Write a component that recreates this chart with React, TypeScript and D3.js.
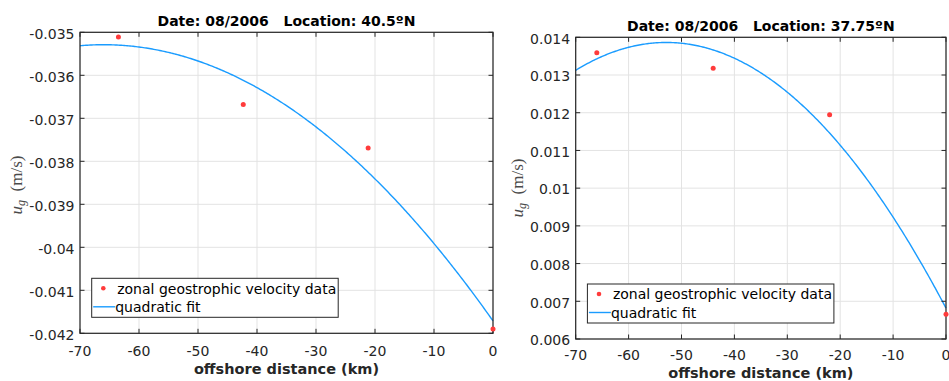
import React from 'react';
import * as d3 from 'd3';

// ---- data ----
const leftDistance = [-63.49, -42.33, -21.16, 0];
const leftVelocity = [-0.03511, -0.03668, -0.03769, -0.0419];
const rightDistance = [-66.01, -44.01, -22.0, 0];
const rightVelocity = [0.013591, 0.013178, 0.011947, 0.006655];

const xTicks = [-70, -60, -50, -40, -30, -20, -10, 0];
const leftYTicks = [-0.042, -0.041, -0.04, -0.039, -0.038, -0.037, -0.036, -0.035];
const rightYTicks = [0.006, 0.007, 0.008, 0.009, 0.01, 0.011, 0.012, 0.013, 0.014];
const leftYDomain = [-0.042, -0.035];
const rightYDomain = [0.006, 0.014];
const xDomain = [-70, 0];

const leftTitle = 'Date: 08/2006   Location: 40.5ºN';
const rightTitle = 'Date: 08/2006   Location: 37.75ºN';
const xLabel = 'offshore distance (km)';
const legendLabels = ['zonal geostrophic velocity data', 'quadratic fit'];

// least-squares quadratic fit of the data (the "quadratic fit" series)
function quadFit(xs: number[], ys: number[]) {
  const S = [0, 0, 0, 0, 0];
  const T = [0, 0, 0];
  xs.forEach((x, i) => {
    for (let k = 0; k < 5; k++) S[k] += Math.pow(x, k);
    for (let k = 0; k < 3; k++) T[k] += ys[i] * Math.pow(x, k);
  });
  const A = [
    [S[0], S[1], S[2]],
    [S[1], S[2], S[3]],
    [S[2], S[3], S[4]],
  ];
  const det = (m: number[][]) =>
    m[0][0] * (m[1][1] * m[2][2] - m[1][2] * m[2][1]) -
    m[0][1] * (m[1][0] * m[2][2] - m[1][2] * m[2][0]) +
    m[0][2] * (m[1][0] * m[2][1] - m[1][1] * m[2][0]);
  const D = det(A);
  const coef = [0, 1, 2].map((c) => {
    const M = A.map((row, r) => row.map((v, j) => (j === c ? T[r] : v)));
    return det(M) / D;
  });
  return (x: number) => coef[0] + coef[1] * x + coef[2] * x * x;
}

const FONT = "'DejaVu Sans', sans-serif";
const AXIS = '#262626';
const GRID = '#e3e3e3';
const LINE = '#1a9cff';
const DOT = '#ff3b3b';

type PanelProps = {
  x0: number; x1: number; y0: number; y1: number;
  yDomain: number[]; yTicks: number[];
  xs: number[]; ys: number[];
  title: string; titleY: number;
  xTickY: number; xLabelY: number;
  yLabelX: number; yLabelY: number;
};

function Panel(p: PanelProps) {
  const x = d3.scaleLinear().domain(xDomain).range([p.x0, p.x1]);
  const y = d3.scaleLinear().domain(p.yDomain).range([p.y1, p.y0]);
  const fit = quadFit(p.xs, p.ys);
  const samples = d3.range(xDomain[0], xDomain[1] + 0.001, 0.25);
  const line = d3
    .line<number>()
    .x((d) => x(d))
    .y((d) => y(fit(d)));
  const fmt = (v: number) => String(+v.toFixed(3));
  const tl = 4.5;
  const lx = p.x0 + 11.7;
  const lw = 246.5;
  const lh = 39;
  const ly = p.y1 - 16 - lh;
  return (
    <g>
      {/* grid */}
      {xTicks.map((t) => (
        <line key={'gx' + t} x1={x(t)} x2={x(t)} y1={p.y0} y2={p.y1} stroke={GRID} strokeWidth={1} />
      ))}
      {p.yTicks.map((t) => (
        <line key={'gy' + t} x1={p.x0} x2={p.x1} y1={y(t)} y2={y(t)} stroke={GRID} strokeWidth={1} />
      ))}
      {/* fit curve */}
      <path d={line(samples) || ''} fill="none" stroke={LINE} strokeWidth={1.4} />
      {/* box */}
      <rect x={p.x0} y={p.y0} width={p.x1 - p.x0} height={p.y1 - p.y0} fill="none" stroke={AXIS} strokeWidth={1.2} />
      {/* ticks */}
      {xTicks.map((t) => (
        <g key={'tx' + t}>
          <line x1={x(t)} x2={x(t)} y1={p.y1} y2={p.y1 - tl} stroke={AXIS} strokeWidth={1} />
          <line x1={x(t)} x2={x(t)} y1={p.y0} y2={p.y0 + tl} stroke={AXIS} strokeWidth={1} />
          <text x={x(t)} y={p.xTickY} textAnchor="middle" fontFamily={FONT} fontSize={14} fill={AXIS}>
            {String(t)}
          </text>
        </g>
      ))}
      {p.yTicks.map((t) => (
        <g key={'ty' + t}>
          <line x1={p.x0} x2={p.x0 + tl} y1={y(t)} y2={y(t)} stroke={AXIS} strokeWidth={1} />
          <line x1={p.x1} x2={p.x1 - tl} y1={y(t)} y2={y(t)} stroke={AXIS} strokeWidth={1} />
          <text x={p.x0 - 5.5} y={y(t) + 6.3} textAnchor="end" fontFamily={FONT} fontSize={14} fill={AXIS}>
            {fmt(t)}
          </text>
        </g>
      ))}
      {/* data points */}
      {p.xs.map((d, i) => (
        <circle key={'pt' + i} cx={x(d)} cy={y(p.ys[i])} r={2.5} fill={DOT} />
      ))}
      {/* title */}
      <text
        x={(p.x0 + p.x1) / 2}
        y={p.titleY}
        textAnchor="middle"
        fontFamily={FONT}
        fontWeight="bold"
        fontSize={14}
        fill="#000"
        style={{ whiteSpace: 'pre' }}
      >
        {p.title}
      </text>
      {/* x label */}
      <text x={(p.x0 + p.x1) / 2} y={p.xLabelY} textAnchor="middle" fontFamily={FONT} fontWeight="bold" fontSize={14.5} fill={AXIS}>
        {xLabel}
      </text>
      {/* y label */}
      <text
        transform={`translate(${p.yLabelX},${p.yLabelY}) rotate(-90)`}
        textAnchor="middle"
        fontFamily="'Liberation Serif', serif"
        fontSize={17}
        fill="#4a4a4a"
      >
        <tspan fontStyle="italic">u</tspan>
        <tspan fontStyle="italic" fontSize={12} dy={3}>g</tspan>
        <tspan dy={-3} style={{ whiteSpace: 'pre' }}>{'  (m/s)'}</tspan>
      </text>
      {/* legend */}
      <rect x={lx} y={ly} width={lw} height={lh} fill="#fff" stroke={AXIS} strokeWidth={1} />
      <circle cx={lx + 11.6} cy={ly + 10} r={2.3} fill={DOT} />
      <text x={lx + 25.5} y={ly + 15.3} fontFamily={FONT} fontSize={14} fill="#000">
        {legendLabels[0]}
      </text>
      <line x1={lx + 1.5} x2={lx + 23.5} y1={ly + 28.5} y2={ly + 28.5} stroke={LINE} strokeWidth={1.4} />
      <text x={lx + 23.5} y={ly + 34} fontFamily={FONT} fontSize={14} fill="#000">
        {legendLabels[1]}
      </text>
    </g>
  );
}

export default function App() {
  return (
    <svg
      width={949}
      height={381}
      viewBox="0 0 949 381"
      style={{ position: 'absolute', left: 0, top: 0, background: '#fff' }}
    >
      <rect x={0} y={0} width={949} height={381} fill="#fff" />
      <Panel
        x0={80} x1={493} y0={32.3} y1={333.3}
        yDomain={leftYDomain} yTicks={leftYTicks}
        xs={leftDistance} ys={leftVelocity}
        title={leftTitle} titleY={25.5}
        xTickY={355.5} xLabelY={374}
        yLabelX={22} yLabelY={185}
      />
      <Panel
        x0={575.7} x1={946} y0={37.3} y1={339}
        yDomain={rightYDomain} yTicks={rightYTicks}
        xs={rightDistance} ys={rightVelocity}
        title={rightTitle} titleY={31}
        xTickY={360} xLabelY={378}
        yLabelX={523} yLabelY={188}
      />
    </svg>
  );
}
